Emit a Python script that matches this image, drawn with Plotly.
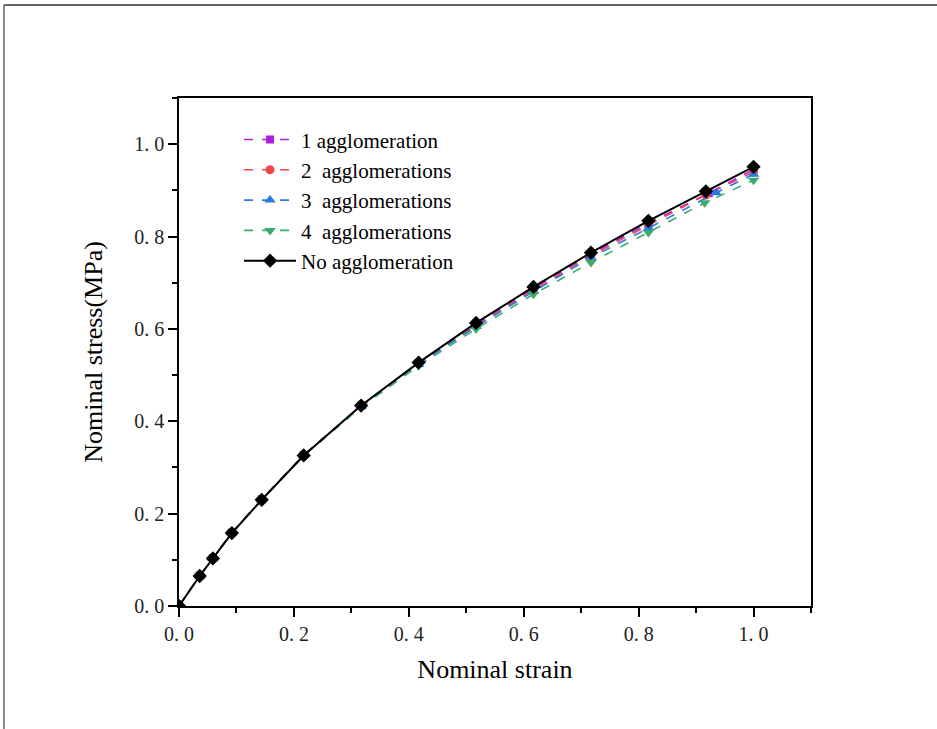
import plotly.graph_objects as go

# ---- data ----
x_base = [0, 0.036, 0.059, 0.092, 0.144, 0.217, 0.317, 0.417, 0.517, 0.617, 0.717, 0.817, 0.917, 1.0]
x_one = [0, 0.036, 0.059, 0.092, 0.144, 0.217, 0.317, 0.417, 0.517, 0.617, 0.717, 0.817, 0.922, 1.0]
x_two = [0, 0.036, 0.059, 0.092, 0.144, 0.217, 0.317, 0.417, 0.517, 0.617, 0.717, 0.817, 0.917, 1.0]
x_three = [0, 0.036, 0.059, 0.092, 0.144, 0.217, 0.317, 0.417, 0.517, 0.617, 0.717, 0.817, 0.935, 1.0]
x_four = [0, 0.036, 0.059, 0.092, 0.144, 0.217, 0.317, 0.417, 0.517, 0.617, 0.717, 0.817, 0.915, 1.0]

y_none = [0, 0.065, 0.103, 0.158, 0.230, 0.326, 0.434, 0.527, 0.613, 0.691, 0.765, 0.834, 0.898, 0.951]
y_one = [0, 0.066, 0.104, 0.159, 0.231, 0.327, 0.434, 0.526, 0.610, 0.688, 0.762, 0.829, 0.894, 0.945]
y_two = [0, 0.066, 0.104, 0.159, 0.231, 0.327, 0.434, 0.525, 0.607, 0.685, 0.759, 0.824, 0.890, 0.940]
y_three = [0, 0.065, 0.103, 0.158, 0.230, 0.326, 0.432, 0.523, 0.605, 0.681, 0.755, 0.818, 0.895, 0.935]
y_four = [0, 0.065, 0.103, 0.158, 0.229, 0.325, 0.431, 0.520, 0.600, 0.675, 0.744, 0.809, 0.873, 0.922]

names = ["1 agglomeration", "2\u00a0 agglomerations", "3\u00a0 agglomerations",
         "4\u00a0 agglomerations", "No agglomeration"]

tick_vals = [0, 0.2, 0.4, 0.6, 0.8, 1.0]
tick_text = ["0.\u00a00", "0.\u00a02", "0.\u00a04", "0.\u00a06", "0.\u00a08", "1.\u00a00"]

FONT = "Liberation Serif, Times New Roman, serif"

fig = go.Figure()

specs = [
    (x_one, y_one, names[0], "#b01ee0", "square", 8),
    (x_two, y_two, names[1], "#f04848", "circle", 9),
    (x_three, y_three, names[2], "#2a78e4", "triangle-up", 10),
    (x_four, y_four, names[3], "#3aad6c", "triangle-down", 10),
]
for xs, ys, nm, col, sym, sz in specs:
    fig.add_trace(go.Scatter(
        x=xs, y=ys, name=nm, mode="lines+markers",
        line=dict(color=col, width=1.6, dash="dash"),
        marker=dict(symbol=sym, size=sz, color=col),
    ))

fig.add_trace(go.Scatter(
    x=x_base, y=y_none, name=names[4], mode="lines+markers",
    line=dict(color="black", width=2),
    marker=dict(symbol="diamond", size=11, color="black"),
))

axis_common = dict(
    range=[0, 1.1], showgrid=False, zeroline=False,
    showline=True, linecolor="black", linewidth=1.5, mirror=True,
    ticks="outside", ticklen=9, tickwidth=1.5, tickcolor="black",
    tickvals=tick_vals, ticktext=tick_text,
    tickfont=dict(family=FONT, size=20, color="#222"),
    minor=dict(ticks="outside", ticklen=5, tickwidth=1.5, tickcolor="black",
               dtick=0.1, tick0=0, showgrid=False),
)

fig.update_layout(
    width=937, height=729,
    margin=dict(l=179, r=126, t=98, b=123),
    paper_bgcolor="white", plot_bgcolor="white",
    xaxis=dict(axis_common, title=dict(text="Nominal strain",
               font=dict(family=FONT, size=26, color="black"), standoff=16)),
    yaxis=dict(axis_common, title=dict(text="Nominal stress(MPa)",
               font=dict(family=FONT, size=26, color="black"), standoff=24)),
    legend=dict(x=0.095, y=0.958, xanchor="left", yanchor="top",
                bgcolor="rgba(0,0,0,0)", borderwidth=0,
                font=dict(family=FONT, size=21, color="black"),
                itemwidth=52, tracegroupgap=0),
    showlegend=True,
)

# outer frame (top and left edges)
fig.add_shape(type="line", xref="paper", yref="paper",
              x0=-0.277, x1=1.2, y0=1.183, y1=1.183,
              line=dict(color="#666", width=2))
fig.add_shape(type="line", xref="paper", yref="paper",
              x0=-0.277, x1=-0.277, y0=1.183, y1=-0.25,
              line=dict(color="#666", width=1.5))

fig.write_html("out.html", config={"displayModeBar": False})

# remove default page margin so the figure sits at the window origin
with open("out.html", "r", encoding="utf-8") as f:
    html = f.read()
html = html.replace("<body>", '<body style="margin:0;padding:0;overflow:hidden">', 1)
with open("out.html", "w", encoding="utf-8") as f:
    f.write(html)
